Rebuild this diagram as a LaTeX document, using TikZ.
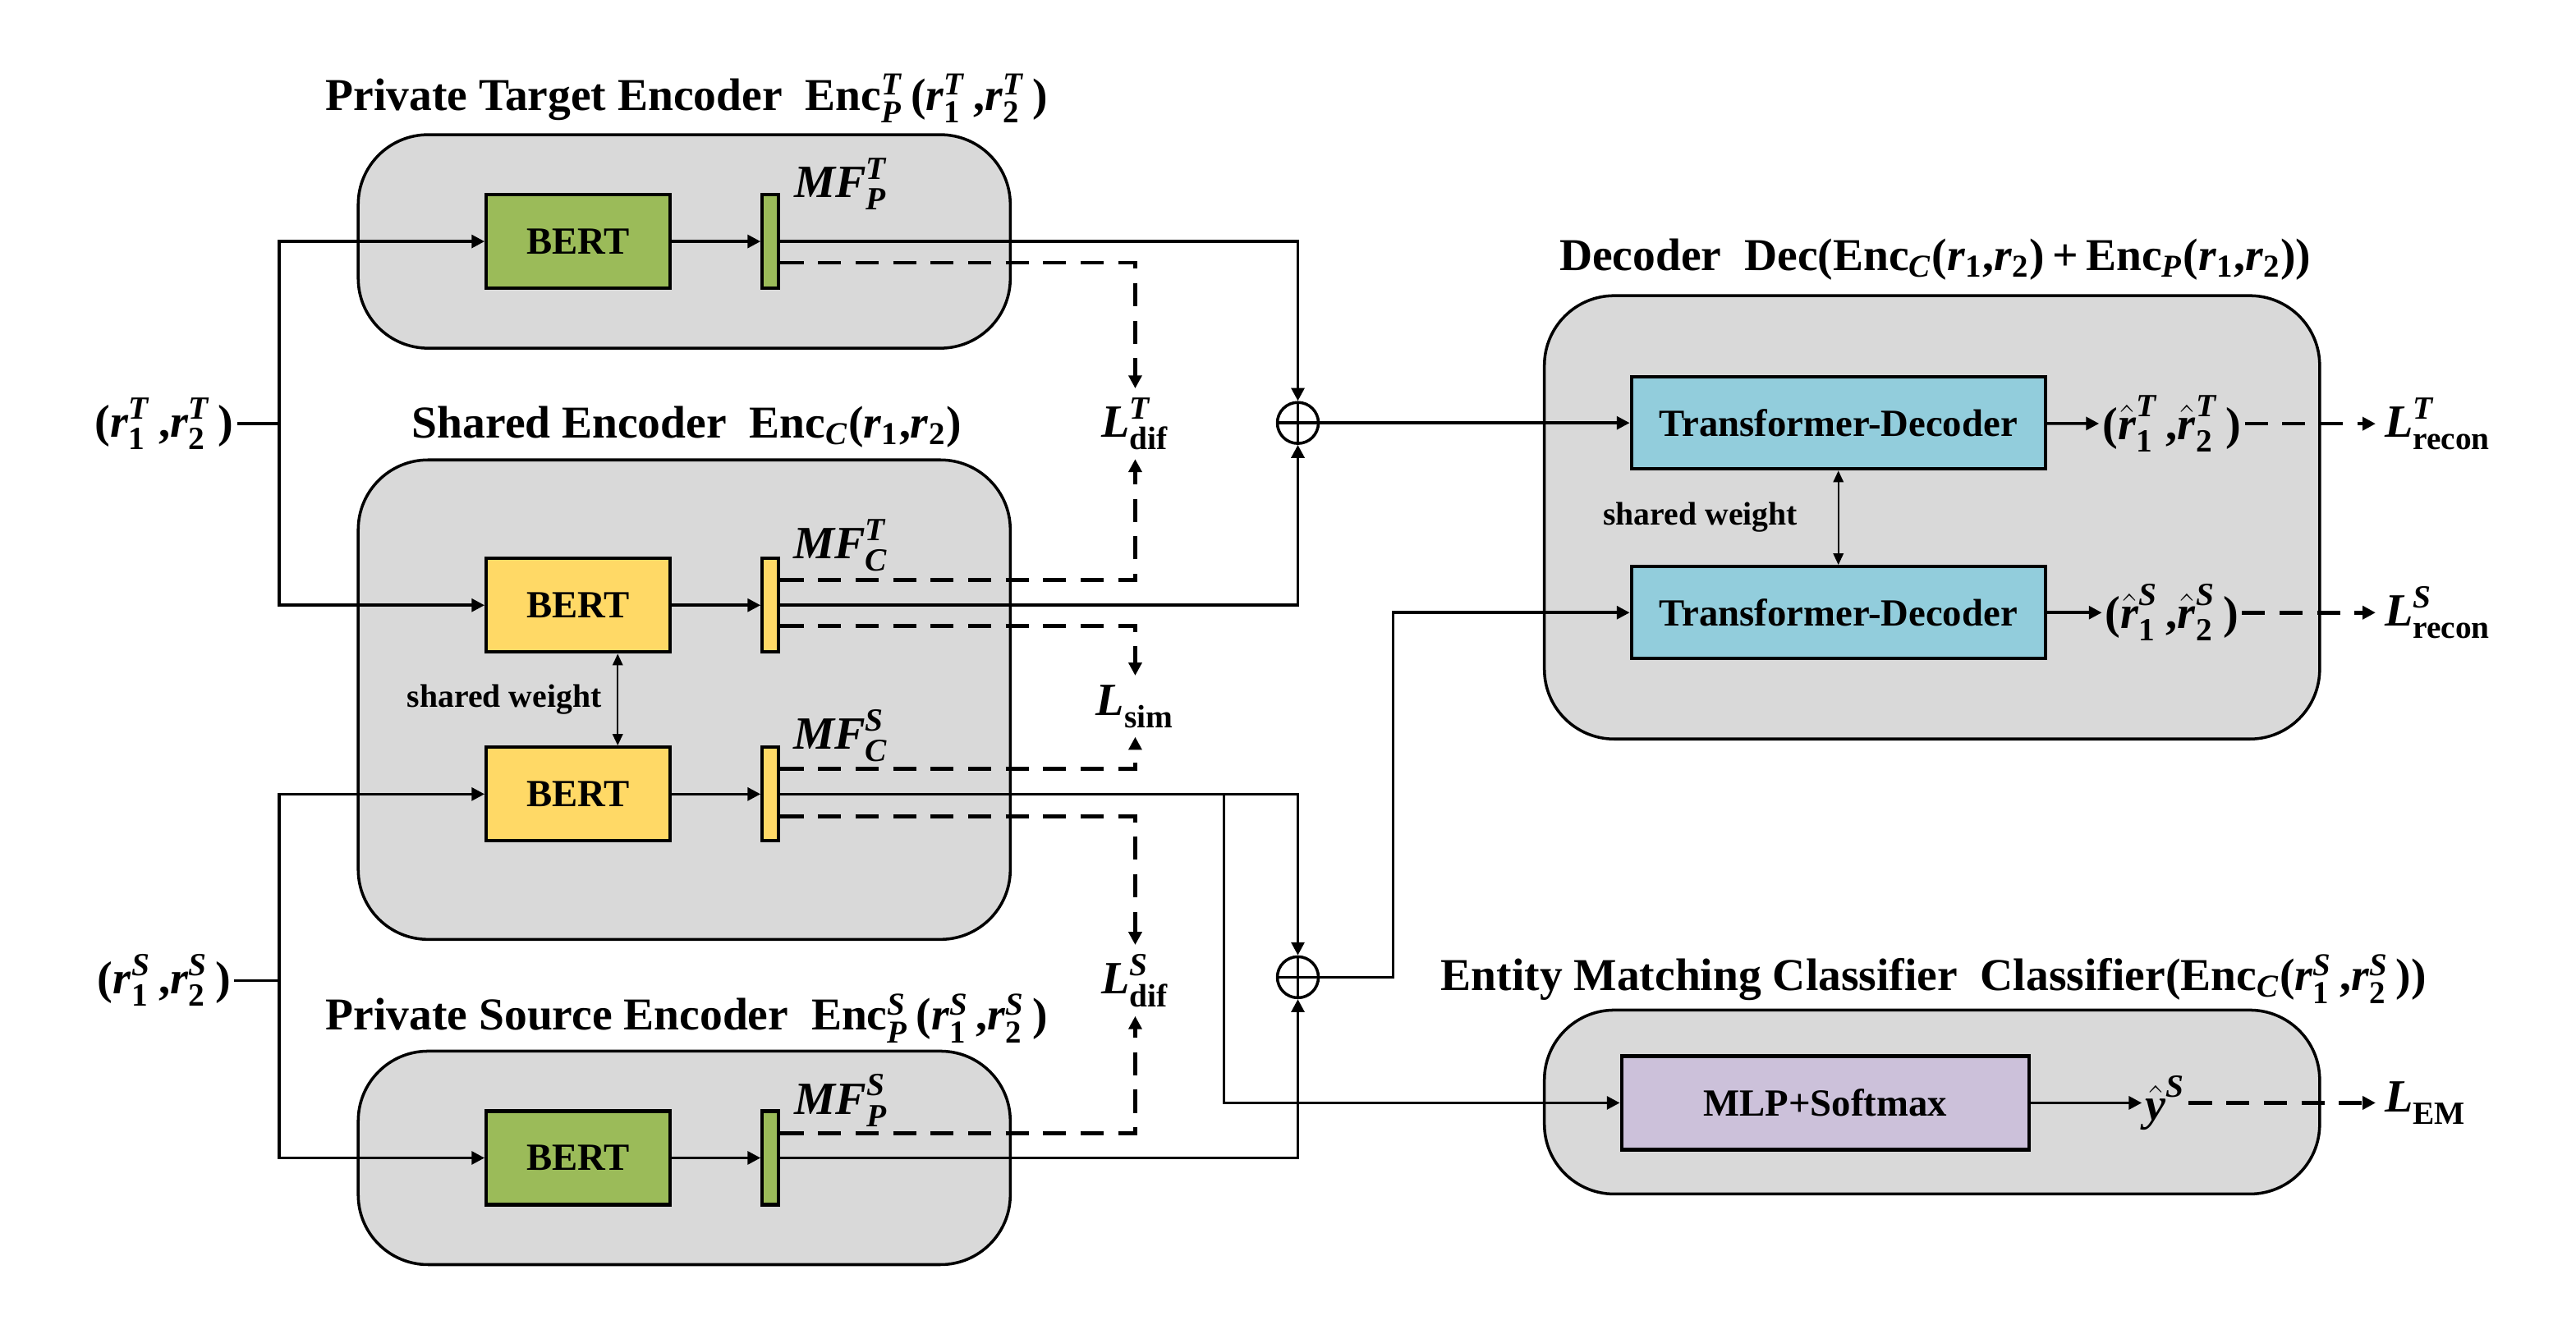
\documentclass[tikz,border=0pt]{standalone}
\usepackage{amsmath}
\usepackage{fontspec}
\setmainfont{Liberation Serif}
\usetikzlibrary{arrows.meta,positioning}
\definecolor{grpgray}{HTML}{D9D9D9}
\definecolor{bertgreen}{HTML}{9BBB59}
\definecolor{bertyellow}{HTML}{FFD966}
\definecolor{decblue}{HTML}{92CDDC}
\definecolor{mlppurple}{HTML}{CCC1DA}
\newcommand{\ttlfont}{\fontsize{15.8}{18}\selectfont\bfseries}
\newcommand{\bxfont}{\fontsize{13.3}{15}\selectfont\bfseries}
\newcommand{\lblfont}{\fontsize{16}{18}\selectfont\bfseries}
\newcommand{\swfont}{\fontsize{11.3}{13}\selectfont\bfseries}
\newcommand{\bv}[1]{\textbf{\textit{#1}}}
\newcommand{\rv}[2]{\bv{r}$_{\textbf{#1}}^{\bv{#2}}$\,}
\newcommand{\rs}[1]{\bv{r}$_{\textbf{#1}}$}
\newcommand{\rh}[2]{$\hat{\bv{r}}_{\textbf{#1}}^{\bv{#2}}$\,}
\newcommand{\mfl}[2]{\bv{MF}$_{\bv{#1}}^{\bv{#2}}$}
\newcommand{\lossl}[2]{\bv{L}$_{\textbf{#1}}^{\bv{#2}}$}

\begin{document}
\begin{tikzpicture}[x=0.02cm,y=-0.02cm,
  group/.style={draw,fill=grpgray,rounded corners=0.85cm,line width=1pt,minimum width=7.94cm},
  ttl/.style={font=\ttlfont,inner sep=1pt},
  bert/.style={draw,line width=1.2pt,minimum width=2.24cm,minimum height=1.14cm,font=\bxfont,inner sep=0pt},
  mfbar/.style={draw,line width=1.2pt,minimum width=0.2cm,minimum height=1.14cm,inner sep=0pt},
  tdbox/.style={draw,line width=1.2pt,fill=decblue,minimum width=5.04cm,minimum height=1.12cm,font=\bxfont},
  lbl/.style={font=\lblfont,inner sep=1pt},
  loss/.style={font=\lblfont,inner sep=3pt},
  swlbl/.style={font=\swfont,inner sep=1pt},
  oplus/.style={draw,circle,line width=1pt,minimum size=0.5cm,inner sep=0pt,
    path picture={\draw[line width=1pt] (path picture bounding box.north) -- (path picture bounding box.south)
      (path picture bounding box.west) -- (path picture bounding box.east);}},
  conn/.style={line width=1pt},
  arr/.style={-{Triangle[length=4.5pt,width=4.5pt]},line width=1pt},
  dasharr/.style={arr,line width=1.3pt,dash pattern=on 8pt off 5pt},
  swarr/.style={{Triangle[length=4pt,width=3.5pt]}-{Triangle[length=4pt,width=3.5pt]},line width=0.7pt}]
\useasboundingbox (0,0) rectangle (1568,812);

% containers
\node[group,minimum height=2.6cm] (ptgrp) at (416.5,147) {};
\node[group,minimum height=5.84cm] (shgrp) at (416.5,426) {};
\node[group,minimum height=2.6cm] (psgrp) at (416.5,705) {};
\node[group,minimum width=9.44cm,minimum height=5.4cm] (decgrp) at (1176,315) {};
\node[group,minimum width=9.44cm,minimum height=2.24cm] (clsgrp) at (1176,671) {};

\node[ttl] at (418,60) {Private Target Encoder\ \ Enc$_{\bv{P}}^{\bv{T}}$\,(\rv{1}{T},\rv{2}{T})};
\node[ttl] at (418,260) {Shared Encoder\ \ Enc$_{\bv{C}}$(\rs{1},\rs{2})};
\node[ttl] at (418,620) {Private Source Encoder\ \ Enc$_{\bv{P}}^{\bv{S}}$\,(\rv{1}{S},\rv{2}{S})};
\node[ttl] at (1178,158) {Decoder\ \ Dec(Enc$_{\bv{C}}$(\rs{1},\rs{2})\,+\,Enc$_{\bv{P}}$(\rs{1},\rs{2}))};
\node[ttl] at (1177,596) {Entity Matching Classifier\ \ Classifier(Enc$_{\bv{C}}$(\rv{1}{S},\rv{2}{S}))};

% encoders
\node[bert,fill=bertgreen] (bertpt) at (352,147) {BERT};
\node[bert,fill=bertyellow] (bertct) at (352,368.5) {BERT};
\node[bert,fill=bertyellow] (bertcs) at (352,483.5) {BERT};
\node[bert,fill=bertgreen] (bertps) at (352,705) {BERT};
\node[mfbar,fill=bertgreen] (mfpt) at (469,147) {};
\node[mfbar,fill=bertyellow] (mfct) at (469,368.5) {};
\node[mfbar,fill=bertyellow] (mfcs) at (469,483.5) {};
\node[mfbar,fill=bertgreen] (mfps) at (469,705) {};
\node[lbl] (mfptl) at (512,112) {\mfl{P}{T}};
\node[lbl] (mfctl) at (512,332) {\mfl{C}{T}};
\node[lbl] (mfcsl) at (512,448) {\mfl{C}{S}};
\node[lbl] (mfpsl) at (512,670) {\mfl{P}{S}};
\node[swlbl] at (307,426) {shared weight};
\draw[swarr] ([xshift=0.48cm]bertct.south) -- ([xshift=0.48cm]bertcs.north);

% inputs
\node[lbl] (int) at (100,258) {(\rv{1}{T},\rv{2}{T})};
\node[lbl] (ins) at (100,597) {(\rv{1}{S},\rv{2}{S})};
\coordinate (jt) at (170,258);
\coordinate (js) at (170,597);
\draw[conn] (int) -- (jt);
\draw[conn] (ins) -- (js);
\draw[arr] (jt) |- (bertpt);
\draw[arr] (jt) |- (bertct);
\draw[arr] (js) |- (bertcs);
\draw[arr] (js) |- (bertps);
\draw[arr] (bertpt) -- (mfpt);
\draw[arr] (bertct) -- (mfct);
\draw[arr] (bertcs) -- (mfcs);
\draw[arr] (bertps) -- (mfps);

% losses between encoders
\node[loss] (ldt) at (691,258) {\lossl{dif}{T}};
\node[loss] (lsim) at (691,430) {\lossl{sim}{}};
\node[loss] (lds) at (691,597) {\lossl{dif}{S}};
\draw[dasharr] ([yshift=-0.26cm]mfpt.east) -| (ldt);
\draw[dasharr] ([yshift=0.31cm]mfct.east) -| (ldt);
\draw[dasharr] ([yshift=-0.25cm]mfct.east) -| (lsim);
\draw[dasharr] ([yshift=0.31cm]mfcs.east) -| (lsim);
\draw[dasharr] ([yshift=-0.27cm]mfcs.east) -| (lds);
\draw[dasharr] ([yshift=0.3cm]mfps.east) -| (lds);

% sums
\node[oplus] (opt) at (790,257.5) {};
\node[oplus] (ops) at (790,595) {};
\draw[arr] (mfpt) -| (opt);
\draw[arr] (mfct) -| (opt);
\draw[arr] (mfcs) -| (ops);
\draw[arr] (mfps) -| (ops);

% decoder
\node[tdbox] (td1) at (1119,257.5) {Transformer-Decoder};
\node[tdbox] (td2) at (1119,373) {Transformer-Decoder};
\draw[swarr] (td1) -- (td2);
\node[swlbl] at (1035,315) {shared weight};
\coordinate (jd) at (848,595);
\draw[arr] (opt) -- (td1);
\draw[arr] (ops) -- (jd) |- (td2);
\node[lbl] (outt) at (1322,258) {(\rh{1}{T},\rh{2}{T})};
\node[lbl] (outs) at (1322,373) {(\rh{1}{S},\rh{2}{S})};
\node[loss,anchor=west] (lrt) at (1446,258) {\lossl{recon}{T}};
\node[loss,anchor=west] (lrs) at (1446,373) {\lossl{recon}{S}};
\draw[arr] (td1) -- (outt);
\draw[arr] (td2) -- (outs);
\draw[dasharr] (outt) -- (lrt);
\draw[dasharr] (outs) -- (lrs);

% classifier
\node[draw,line width=1.2pt,fill=mlppurple,minimum width=4.96cm,minimum height=1.14cm,font=\bxfont] (mlp) at (1111,671.5) {MLP+Softmax};
\coordinate (br) at (745,483.5);
\draw[arr] (br) |- (mlp);
\node[lbl] (yhat) at (1318,671.5) {$\hat{\bv{y}}^{\bv{S}}$};
\node[loss,anchor=west] (lem) at (1446,671.5) {\lossl{EM}{}};
\draw[arr] (mlp) -- (yhat);
\draw[dasharr] (yhat) -- (lem);
\end{tikzpicture}
\end{document}
